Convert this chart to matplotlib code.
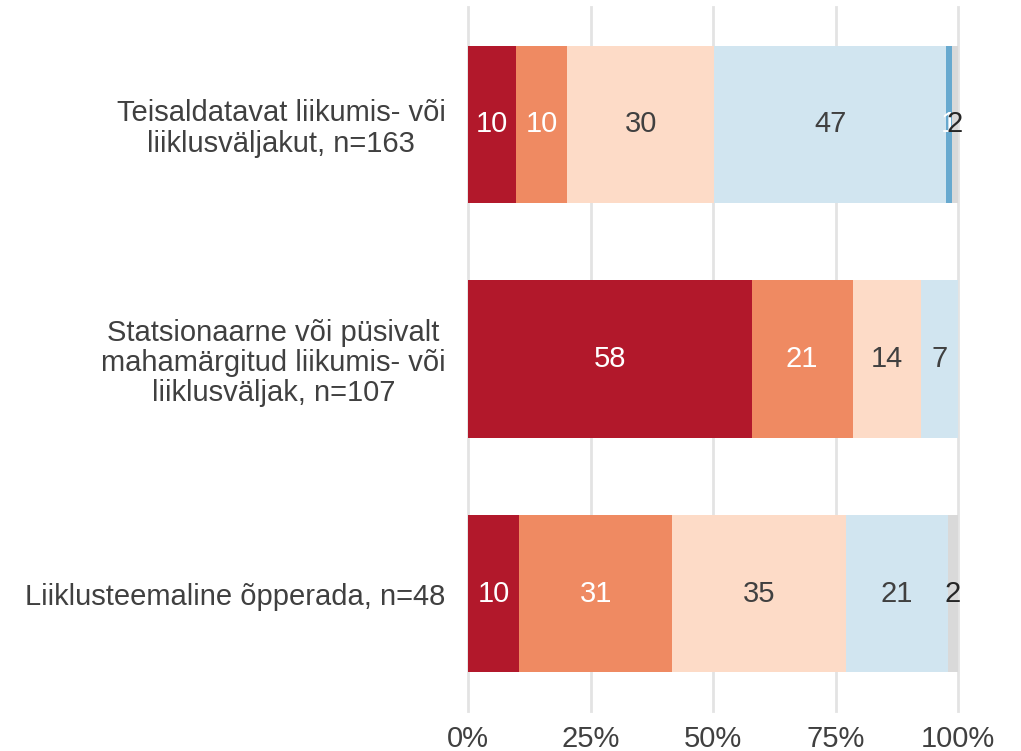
import numpy as np
import matplotlib
matplotlib.use('Agg')
import matplotlib.pyplot as plt
plt.rc('font', family=['Liberation Sans', 'DejaVu Sans'], size=21)
plt.rc('text', color='#404040')
plt.rc('xtick', color='#404040', labelcolor='#404040')
plt.rc('ytick', color='#404040', labelcolor='#404040')

categories = ['Teisaldatavat liikumis- või\nliiklusväljakut, n=163',
              'Statsionaarne või püsivalt\nmahamärgitud liikumis- või\nliiklusväljak, n=107',
              'Liiklusteemaline õpperada, n=48']

# segment widths (percent), one list per answer level
lvl1 = [9.8, 57.9, 10.4]
lvl2 = [10.4, 20.6, 31.3]
lvl3 = [30.1, 14.0, 35.4]
lvl4 = [47.2, 7.5, 20.8]
lvl5 = [1.2, 0.0, 0.0]
lvl6 = [1.2, 0.0, 2.1]

# printed labels (as shown on the chart)
lab1 = ['10', '58', '10']
lab2 = ['10', '21', '31']
lab3 = ['30', '14', '35']
lab4 = ['47', '7', '21']
lab5 = ['1', '', '']
lab6 = ['2', '', '2']

colors = ['#b2182b', '#ef8a62', '#fddbc7', '#d1e5f0', '#67a9cf', '#d9d9d9']
text_colors = ['white', 'white', '#404040', '#404040', 'white', '#262626']

xticks = [0, 25, 50, 75, 100]
xticklabels = ['0%', '25%', '50%', '75%', '100%']


def plot_bars():
    fig = plt.figure(figsize=(10.21, 7.51), dpi=100)
    ax = fig.add_axes([468 / 1021, 40 / 751, 490 / 1021, 704 / 751])
    series = [lvl1, lvl2, lvl3, lvl4, lvl5, lvl6]
    labels = [lab1, lab2, lab3, lab4, lab5, lab6]
    y = np.arange(len(categories))
    left = np.zeros(len(categories))
    for vals, labs, c, tc in zip(series, labels, colors, text_colors):
        vals = np.array(vals)
        ax.barh(y, vals, left=left, height=0.67, color=c, zorder=2)
        for yi, (l, v, t) in enumerate(zip(left, vals, labs)):
            if t:
                ax.text(l + v / 2, yi, t, ha='center', va='center',
                        color=tc, zorder=3)
        left += vals

    ax.set_xlim(0, 100)
    ax.set_ylim(2.5, -0.5)
    ax.set_yticks(y)
    ax.set_yticklabels(categories, linespacing=1.1, multialignment='center')
    ax.set_xticks(xticks)
    ax.set_xticklabels(xticklabels)
    ax.tick_params(axis='both', length=0)
    ax.tick_params(axis='x', pad=10)
    ax.tick_params(axis='y', pad=16)
    for x in xticks:
        ax.axvline(x, color='#e3e3e3', lw=2, zorder=1, clip_on=False)
    for s in ax.spines.values():
        s.set_visible(False)
    fig.savefig('out.png', dpi=100)
    plt.close()


if __name__ == '__main__':
    plot_bars()
